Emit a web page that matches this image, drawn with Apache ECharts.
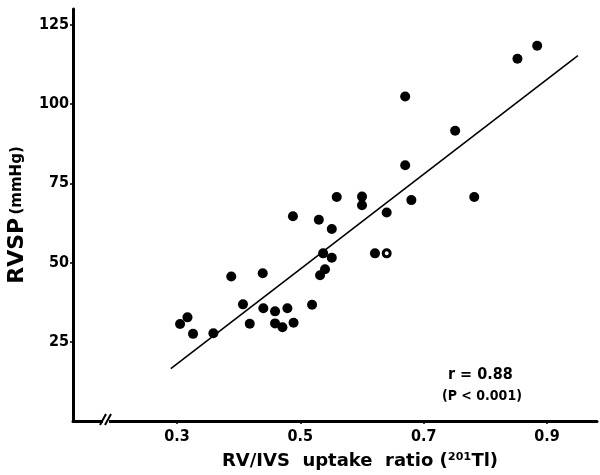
<!DOCTYPE html>
<html>
<head>
<meta charset="utf-8">
<script src="https://cdn.jsdelivr.net/npm/echarts@6/dist/echarts.min.js"></script>
<style>
  html, body { margin: 0; padding: 0; background: #fff; }
  #chart { width: 600px; height: 475px; }
</style>
</head>
<body>
<div id="chart"></div>
<script>
// RV/IVS uptake ratio (x) vs RVSP (y)
var ratio = [0.305, 0.317, 0.326, 0.359, 0.388, 0.407, 0.418, 0.439, 0.440, 0.459,
  0.459, 0.471, 0.479, 0.489, 0.488, 0.519, 0.530, 0.532, 0.540, 0.537,
  0.551, 0.551, 0.559, 0.600, 0.600, 0.621, 0.640, 0.670, 0.751, 0.670,
  0.680, 0.782, 0.852, 0.884]
var rvsp = [30.6, 32.7, 27.5, 27.7, 45.6, 36.8, 30.7, 46.6, 35.6, 34.6,
  30.8, 29.6, 35.6, 31.0, 64.6, 36.7, 63.5, 46.0, 47.9, 52.9,
  51.5, 60.6, 70.7, 70.8, 68.1, 52.9, 65.8, 102.4, 91.6, 80.7,
  69.7, 70.7, 114.3, 118.4]
// open circle
var openRatio = [0.640]
var openRvsp = [52.9]
// regression line end points
var fitX = [0.29, 0.95]
var fitY = [16.5, 115.3]
var xTicks = [0.3, 0.5, 0.7, 0.9]
var yTicks = [25, 50, 75, 100, 125]

var chart = echarts.init(document.getElementById('chart'))

var labelFont = {
  color: '#000',
  fontSize: 16,
  fontWeight: 'bold',
  fontFamily: '"DejaVu Sans Condensed", "Liberation Sans", Arial, sans-serif'
}
var titleFamily = '"DejaVu Sans", "Liberation Sans", sans-serif'

function pairs(xs, ys) {
  return xs.map(function (x, i) { return [x, ys[i]] })
}

chart.setOption({
  animation: false,
  grid: {
    left: 73,
    right: 3,
    top: 9,
    bottom: 54,
    outerBoundsMode: 'none',
    containLabel: false
  },
  xAxis: {
    type: 'value',
    min: 0.1314,
    max: 0.981,
    name: 'RV/IVS  uptake  ratio (\u00b2\u2070\u00b9Tl)',
    nameLocation: 'middle',
    nameGap: 31,
    nameTextStyle: {
      color: '#000',
      fontSize: 18,
      fontWeight: 'bold',
      fontFamily: titleFamily,
      padding: [0, 0, 0, 50]
    },
    splitLine: { show: false },
    axisLine: { lineStyle: { color: '#000', width: 3 } },
    axisTick: {
      customValues: xTicks,
      length: 3,
      lineStyle: { color: '#000', width: 1.5 }
    },
    axisLabel: Object.assign({
      customValues: xTicks,
      margin: 8
    }, labelFont)
  },
  yAxis: {
    type: 'value',
    min: 0,
    max: 130,
    name: '{a|RVSP} {b|(mmHg)}',
    nameLocation: 'middle',
    nameGap: 44,
    nameRotate: 90,
    nameTextStyle: {
      rich: {
        a: {
          color: '#000',
          fontSize: 22,
          fontWeight: 'bold',
          fontFamily: titleFamily
        },
        b: {
          color: '#000',
          fontSize: 15,
          fontWeight: 'bold',
          fontFamily: titleFamily
        }
      }
    },
    splitLine: { show: false },
    axisLine: { show: true, lineStyle: { color: '#000', width: 3 } },
    axisTick: {
      customValues: yTicks,
      length: 3,
      lineStyle: { color: '#000', width: 1.5 }
    },
    axisLabel: Object.assign({
      customValues: yTicks,
      margin: 4
    }, labelFont)
  },
  series: [
    {
      type: 'line',
      data: pairs(fitX, fitY),
      showSymbol: false,
      lineStyle: { color: '#000', width: 1.6 },
      z: 1
    },
    {
      type: 'scatter',
      data: pairs(ratio, rvsp),
      symbolSize: 10,
      itemStyle: { color: '#000', opacity: 1 },
      z: 3
    },
    {
      type: 'scatter',
      data: pairs(openRatio, openRvsp),
      symbolSize: 7,
      itemStyle: { color: '#fff', borderColor: '#000', borderWidth: 3, opacity: 1 },
      z: 3
    }
  ],
  graphic: [
    // axis break mark "//"
    { type: 'rect', shape: { x: 103, y: 416, width: 6, height: 8 }, style: { fill: '#fff' }, z: 100 },
    { type: 'line', shape: { x1: 100, y1: 425, x2: 106, y2: 414 }, style: { stroke: '#000', lineWidth: 2 }, z: 101 },
    { type: 'line', shape: { x1: 105, y1: 425, x2: 111, y2: 414 }, style: { stroke: '#000', lineWidth: 2 }, z: 101 },
    // correlation text
    {
      type: 'text', left: 448, top: 367,
      style: { text: 'r = 0.88', fill: '#000', font: 'bold 16px "DejaVu Sans Condensed", "Liberation Sans", sans-serif' }
    },
    {
      type: 'text', left: 442, top: 389,
      style: { text: '(P < 0.001)', fill: '#000', font: 'bold 14px "DejaVu Sans Condensed", "Liberation Sans", sans-serif' }
    }
  ]
})
</script>
</body>
</html>
